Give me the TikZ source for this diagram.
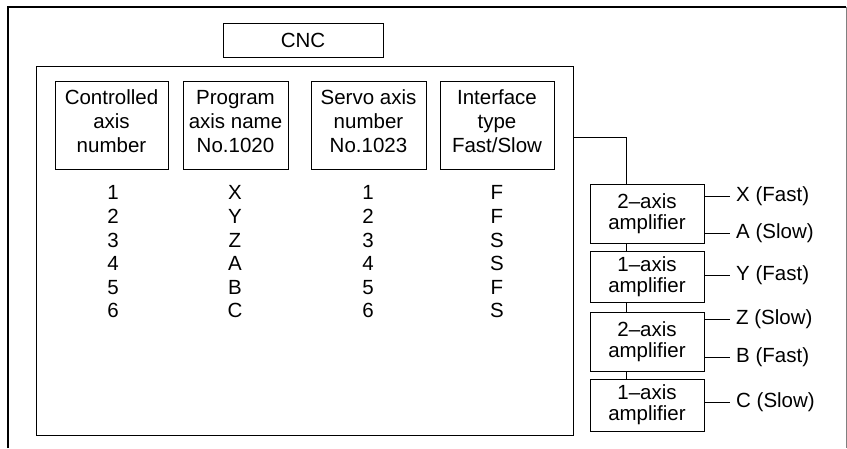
\documentclass[tikz,border=0pt]{standalone}
\usepackage{fontspec}
\setmainfont{Liberation Sans}

\begin{document}
\begin{tikzpicture}[x=1pt, y=-1pt,
  every node/.style={font=\fontsize{20.5}{24}\selectfont},
  hdr/.style={rectangle, draw, line width=1pt, minimum height=88pt,
              inner sep=0pt, text depth=8pt, align=center},
  amp/.style={rectangle, draw, line width=1pt, minimum width=114pt,
              inner sep=0pt, align=center, font=\fontsize{20.5}{21}\selectfont},
  col/.style={inner sep=0pt, align=center, font=\fontsize{20.5}{23.6}\selectfont},
  lbl/.style={anchor=west, inner sep=6pt},
  wire/.style={line width=1pt}
]
\useasboundingbox (0,0) rectangle (847,448);

% Frame
\draw[line width=1.2pt] (8,448) -- (8,7);
\draw[line width=2pt] (7,7) -- (846,7);
\draw[gray, line width=0.8pt] (846,7) -- (846,448);

% CNC unit
\node[rectangle, draw, line width=1pt, minimum width=160pt, minimum height=34pt, inner sep=0pt]
  (cnc) at (303,40) {CNC};
\node[rectangle, draw, line width=1pt, minimum width=537pt, minimum height=369pt, inner sep=0pt]
  (unit) at (304.5,250.5) {};

% Column heads
\node[hdr, minimum width=113pt] (hctl) at (111.5,125) {Controlled\\axis\\number};
\node[hdr, minimum width=105pt] (hprg) at (235.5,125) {Program\\axis name\\No.1020};
\node[hdr, minimum width=115pt] (hsrv) at (368.5,125) {Servo axis\\number\\No.1023};
\node[hdr, minimum width=114pt] (hift) at (497,125) {Interface\\type\\Fast/Slow};

% Column values
\node[col] (vctl) at (113,252) {1\\2\\3\\4\\5\\6};
\node[col] (vprg) at (235,252) {X\\Y\\Z\\A\\B\\C};
\node[col] (vsrv) at (368,252) {1\\2\\3\\4\\5\\6};
\node[col] (vift) at (497,252) {F\\F\\S\\S\\F\\S};

% Amplifiers
\node[amp, minimum height=59pt] (amp1) at (647,213.5) {2--axis\\amplifier};
\node[amp, minimum height=51pt] (amp2) at (647,276.5) {1--axis\\amplifier};
\node[amp, minimum height=59pt] (amp3) at (647,341.5) {2--axis\\amplifier};
\node[amp, minimum height=52pt] (amp4) at (647,405) {1--axis\\amplifier};

\coordinate (tap) at (573,137);
\draw[wire] (tap) -| ([xshift=-21pt]amp1.north);
\draw[wire] ([xshift=-21pt]amp1.south) -- ([xshift=-21pt]amp2.north);
\draw[wire] ([xshift=-21pt]amp2.south) -- ([xshift=-21pt]amp3.north);
\draw[wire] ([xshift=-21pt]amp3.south) -- ([xshift=-21pt]amp4.north);

% Axes
\node[lbl] (xax) at (730,196) {X (Fast)};
\node[lbl] (aax) at (730,233) {A (Slow)};
\node[lbl] (yax) at (730,275) {Y (Fast)};
\node[lbl] (zax) at (730,319) {Z (Slow)};
\node[lbl] (bax) at (730,357) {B (Fast)};
\node[lbl] (cax) at (730,402) {C (Slow)};

\draw[wire] (amp1.east |- xax) -- (xax.west);
\draw[wire] (amp1.east |- aax) -- (aax.west);
\draw[wire] (amp2.east |- yax) -- (yax.west);
\draw[wire] (amp3.east |- zax) -- (zax.west);
\draw[wire] (amp3.east |- bax) -- (bax.west);
\draw[wire] (amp4.east |- cax) -- (cax.west);
\end{tikzpicture}
\end{document}
